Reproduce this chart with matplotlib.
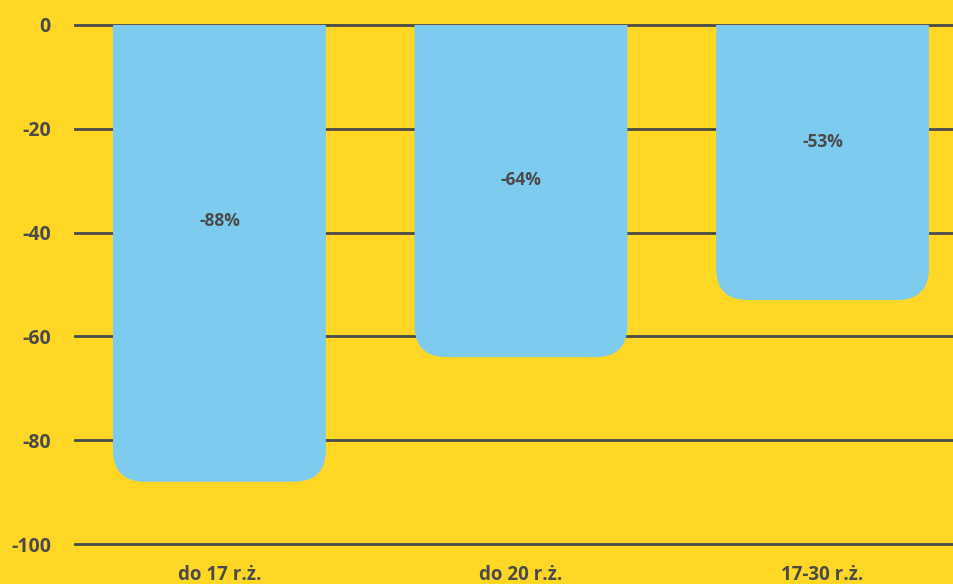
import matplotlib
matplotlib.use("Agg")
import matplotlib.pyplot as plt
from matplotlib.patches import FancyBboxPatch, Rectangle
from matplotlib.transforms import blended_transform_factory

categories = ["do 17 r.ż.", "do 20 r.ż.", "17-30 r.ż."]
values = [-88, -64, -53]
value_labels = ["-88%", "-64%", "-53%"]
yticks = [0, -20, -40, -60, -80, -100]
label_y = [-37.8, -29.9, -22.5]

BG = "#FFD724"
BAR = "#7DCBEE"
TXT = "#4A4A4A"

plt.rcParams['font.family'] = ['Open Sans', 'DejaVu Sans']

fig = plt.figure(figsize=(9.54, 5.84), dpi=100, facecolor=BG)
ax = fig.add_axes([75/954, 40/584, 879/954, 519/584], facecolor=BG)
ax.set_xlim(-0.479, 2.436)
ax.set_ylim(-100, 0)
for s in ax.spines.values():
    s.set_visible(False)

for t in yticks:
    ax.axhline(t, color=TXT, lw=2.0, zorder=1, clip_on=False)

w = 0.706
px_x = 301.5
px_y = 5.19
r_px = 32
r_x = r_px / px_x
r_y = r_px / px_y
for i, v in enumerate(values):
    patch = FancyBboxPatch((i - w/2, v), w, -v + 2*r_y,
                           boxstyle=f"round,pad=0,rounding_size={r_x}",
                           mutation_aspect=r_y / r_x,
                           facecolor=BAR, edgecolor="none", zorder=2)
    ax.add_patch(patch)
    clip = Rectangle((i - w, v - 5), 2*w, -v + 5, transform=ax.transData)
    patch.set_clip_path(clip)
    ax.text(i, label_y[i], value_labels[i], ha="center", va="center",
            fontsize=12.5, fontweight="bold", color=TXT, zorder=3)

ax.set_yticks(yticks)
ax.set_yticklabels([str(t) for t in yticks])
ax.tick_params(axis="y", length=0, pad=17.3, labelsize=14, labelcolor=TXT)
for lab in ax.get_yticklabels():
    lab.set_fontweight("bold")
ax.set_xticks([])

trans = blended_transform_factory(ax.transData, fig.transFigure)
for i, c in enumerate(categories):
    ax.text(i, 1 - 575/584, c, transform=trans, ha="center", va="center",
            fontsize=13.5, fontweight="bold", color=TXT)

fig.savefig("out.png", dpi=100, facecolor=BG)
